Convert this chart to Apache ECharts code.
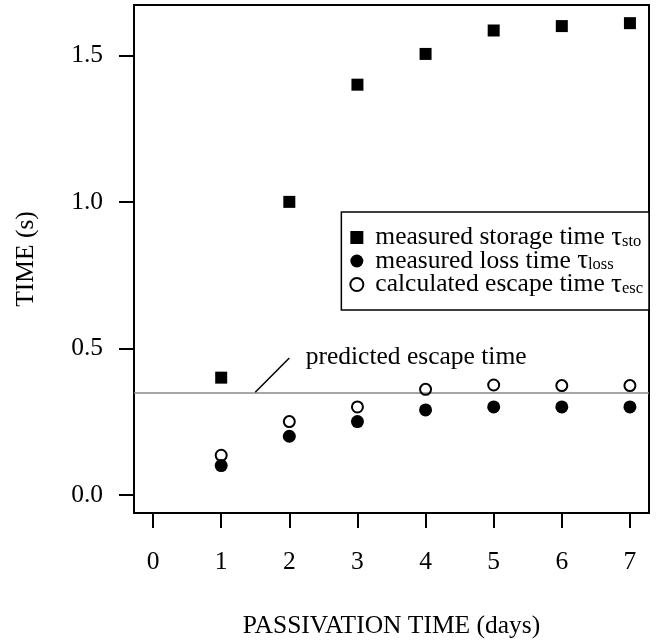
<!DOCTYPE html>
<html>
<head>
<meta charset="utf-8">
<script src="https://cdn.jsdelivr.net/npm/echarts@6/dist/echarts.min.js"></script>
<style>
  html, body { margin: 0; padding: 0; background: #fff; }
  #chart { width: 663px; height: 641px; }
</style>
</head>
<body>
<div id="chart"></div>
<script>
// Passivation time (days) for each measurement
const days = [1, 2, 3, 4, 5, 6, 7];
// Measured storage time tau_sto (s)
const storageTime = [0.40, 1.00, 1.40, 1.505, 1.585, 1.60, 1.61];
// Measured loss time tau_loss (s)
const lossTime = [0.10, 0.20, 0.25, 0.29, 0.30, 0.30, 0.30];
// Calculated escape time tau_esc (s)
const escapeTime = [0.135, 0.25, 0.30, 0.36, 0.375, 0.373, 0.373];
// Predicted escape time (s), drawn as a horizontal reference line
const predictedEscape = 0.35;
const predictedLabel = 'predicted escape time';

const xTicks = [0, 1, 2, 3, 4, 5, 6, 7];
const yTicks = [0, 0.5, 1.0, 1.5];

const seriesNames = ['measured storage time', 'measured loss time', 'calculated escape time'];
const seriesSubs = ['sto', 'loss', 'esc'];

const FONT = '"Liberation Serif", "DejaVu Serif", serif';
const FS = 25.5;

const pairs = vals => days.map((d, i) => [d, vals[i]]);

const chart = echarts.init(document.getElementById('chart'), null, { renderer: 'canvas' });

chart.setOption({
  animation: false,
  backgroundColor: '#fff',
  textStyle: { fontFamily: FONT, color: '#000' },
  grid: {
    left: 134, right: 14, top: 5, bottom: 128,
    show: true, borderColor: '#000', borderWidth: 2,
    containLabel: false, outerBoundsMode: 'none'
  },
  xAxis: {
    type: 'value', min: -0.28, max: 7.28, offset: 1,
    name: 'PASSIVATION TIME (days)', nameLocation: 'middle', nameGap: 99,
    nameTextStyle: { fontFamily: FONT, fontSize: FS, color: '#000' },
    axisLine: { show: false, onZero: false },
    splitLine: { show: false },
    axisTick: { show: true, inside: false, length: 14, customValues: xTicks, lineStyle: { color: '#000', width: 2 } },
    axisLabel: { customValues: xTicks, margin: 35, fontFamily: FONT, fontSize: FS, color: '#000' }
  },
  yAxis: {
    type: 'value', min: -0.062, max: 1.672, offset: 1,
    name: 'TIME (s)', nameLocation: 'middle', nameGap: 94, nameRotate: 90,
    nameTextStyle: { fontFamily: FONT, fontSize: FS, color: '#000' },
    axisLine: { show: false, onZero: false },
    splitLine: { show: false },
    axisTick: { show: true, inside: false, length: 14, customValues: yTicks, lineStyle: { color: '#000', width: 2 } },
    axisLabel: {
      customValues: yTicks, margin: 30, fontFamily: FONT, fontSize: FS, color: '#000',
      formatter: v => Number(v).toFixed(1)
    }
  },
  legend: {
    orient: 'vertical', right: 14, top: 212,
    padding: [12, 6, 12, 8], itemGap: -3.5,
    backgroundColor: '#fff', borderColor: '#000', borderWidth: 1.5, borderRadius: 0,
    itemWidth: 13, itemHeight: 13,
    data: seriesNames,
    formatter: name => {
      const i = seriesNames.indexOf(name);
      return name + ' {t|τ}{s|' + seriesSubs[i] + '}';
    },
    textStyle: {
      fontFamily: FONT, fontSize: 25.5, lineHeight: 23.5, color: '#000', padding: [0, 0, 0, 7],
      rich: {
        t: { fontFamily: FONT, fontSize: 27, lineHeight: 23.5, color: '#000' },
        s: { fontFamily: FONT, fontSize: 16.5, lineHeight: 14, color: '#000', padding: [8, 0, 0, 0] }
      }
    }
  },
  series: [
    {
      name: seriesNames[0], type: 'scatter', symbol: 'rect', symbolSize: 12,
      itemStyle: { color: '#000', opacity: 1 },
      data: pairs(storageTime), z: 5,
      markLine: {
        silent: true, symbol: 'none', animation: false,
        label: { show: false },
        data: [
          { yAxis: predictedEscape, lineStyle: { color: '#888', width: 1.6, type: 'solid' } },
          [
            { coord: [1.5, predictedEscape], lineStyle: { color: '#000', width: 1.5, type: 'solid' } },
            { coord: [2.0, 0.467] }
          ]
        ]
      },
      markPoint: {
        silent: true, symbol: 'circle', symbolSize: 0,
        data: [{ coord: [2.24, 0.47] }],
        label: {
          show: true, position: [0, 0], align: 'left', verticalAlign: 'middle',
          formatter: predictedLabel, fontFamily: FONT, fontSize: FS, color: '#000'
        }
      }
    },
    {
      name: seriesNames[1], type: 'scatter', symbol: 'circle', symbolSize: 13,
      itemStyle: { color: '#000', opacity: 1 },
      data: pairs(lossTime), z: 5
    },
    {
      name: seriesNames[2], type: 'scatter', symbol: 'circle', symbolSize: 11,
      itemStyle: { color: 'rgba(255,255,255,0)', borderColor: '#000', borderWidth: 2, opacity: 1 },
      data: pairs(escapeTime), z: 5
    }
  ]
});
</script>
</body>
</html>
